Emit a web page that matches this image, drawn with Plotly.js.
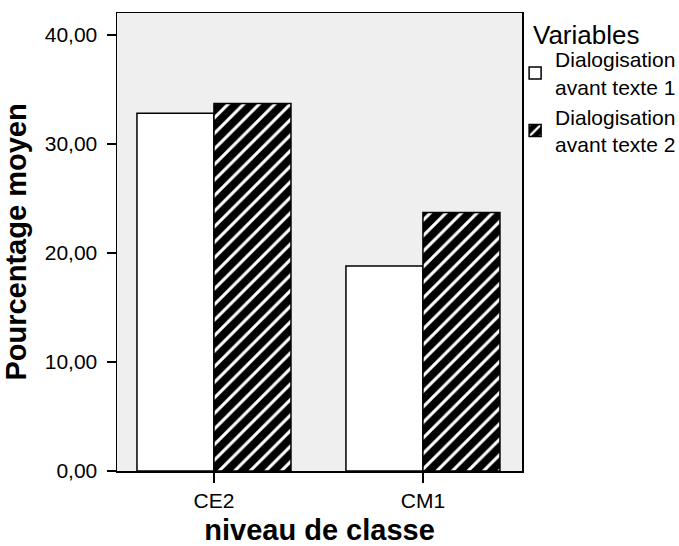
<!DOCTYPE html>
<html>
<head>
<meta charset="utf-8">
<script src="https://cdn.plot.ly/plotly-3.0.1.min.js"></script>
<style>html,body{margin:0;padding:0;background:#fff;}#chart{width:679px;height:546px;}</style>
</head>
<body>
<div id="chart"></div>
<script>
var categories = ["CE2", "CM1"];
var seriesNames = ["Dialogisation<br>avant texte 1", "Dialogisation<br>avant texte 2"];
var legendTitle = "Variables";
var texte1 = [32.8, 18.8];
var texte2 = [33.7, 23.7];
var yTicks = [0, 10, 20, 30, 40];

var traces = [
  {
    type: "bar", x: categories, y: texte1, name: seriesNames[0],
    marker: {color: "#ffffff", line: {color: "#000000", width: 1.5}},
    hoverinfo: "none"
  },
  {
    type: "bar", x: categories, y: texte2, name: seriesNames[1],
    marker: {
      color: "#000000",
      line: {color: "#000000", width: 1.5},
      pattern: {shape: "/", bgcolor: "#000000", fgcolor: "#ffffff", size: 11, solidity: 0.28, fillmode: "replace"}
    },
    hoverinfo: "none"
  }
];

var layout = {
  width: 679, height: 546,
  margin: {l: 117, r: 157, t: 13, b: 75, autoexpand: false},
  paper_bgcolor: "#ffffff",
  plot_bgcolor: "#efefef",
  separators: ",.",
  font: {family: "Liberation Sans, Arial, sans-serif", color: "#000000", size: 21},
  barmode: "group",
  bargap: 0.263,
  bargroupgap: 0,
  showlegend: true,
  legend: {
    x: 0.983, xanchor: "left", y: 0.943, yanchor: "top",
    bgcolor: "rgba(0,0,0,0)",
    font: {size: 21},
    tracegroupgap: 0
  },
  annotations: [
    {text: legendTitle, xref: "paper", yref: "paper", x: 1.022, y: 0.99, xanchor: "left", yanchor: "top",
     showarrow: false, font: {size: 26}}
  ],
  xaxis: {
    type: "category",
    range: [-0.464, 1.474],
    showline: true, linecolor: "#000000", linewidth: 1.5, mirror: true,
    ticks: "outside", ticklen: 10, tickwidth: 1.5, tickcolor: "#000000",
    showgrid: false, zeroline: false,
    tickfont: {size: 21},
    title: {text: "<b>niveau de classe</b>", font: {size: 29}, standoff: 11}
  },
  yaxis: {
    range: [0, 42],
    tickvals: yTicks,
    tickformat: ".2f",
    showline: true, linecolor: "#000000", linewidth: 1.5, mirror: true,
    ticks: "outside", ticklen: 9, tickwidth: 1.5, tickcolor: "#000000",
    ticklabelstandoff: 5,
    showgrid: false, zeroline: false,
    tickfont: {size: 21},
    title: {text: "<b>Pourcentage moyen</b>", font: {size: 29}, standoff: 14}
  }
};

Plotly.newPlot("chart", traces, layout, {displayModeBar: false, staticPlot: true});
</script>
</body>
</html>
